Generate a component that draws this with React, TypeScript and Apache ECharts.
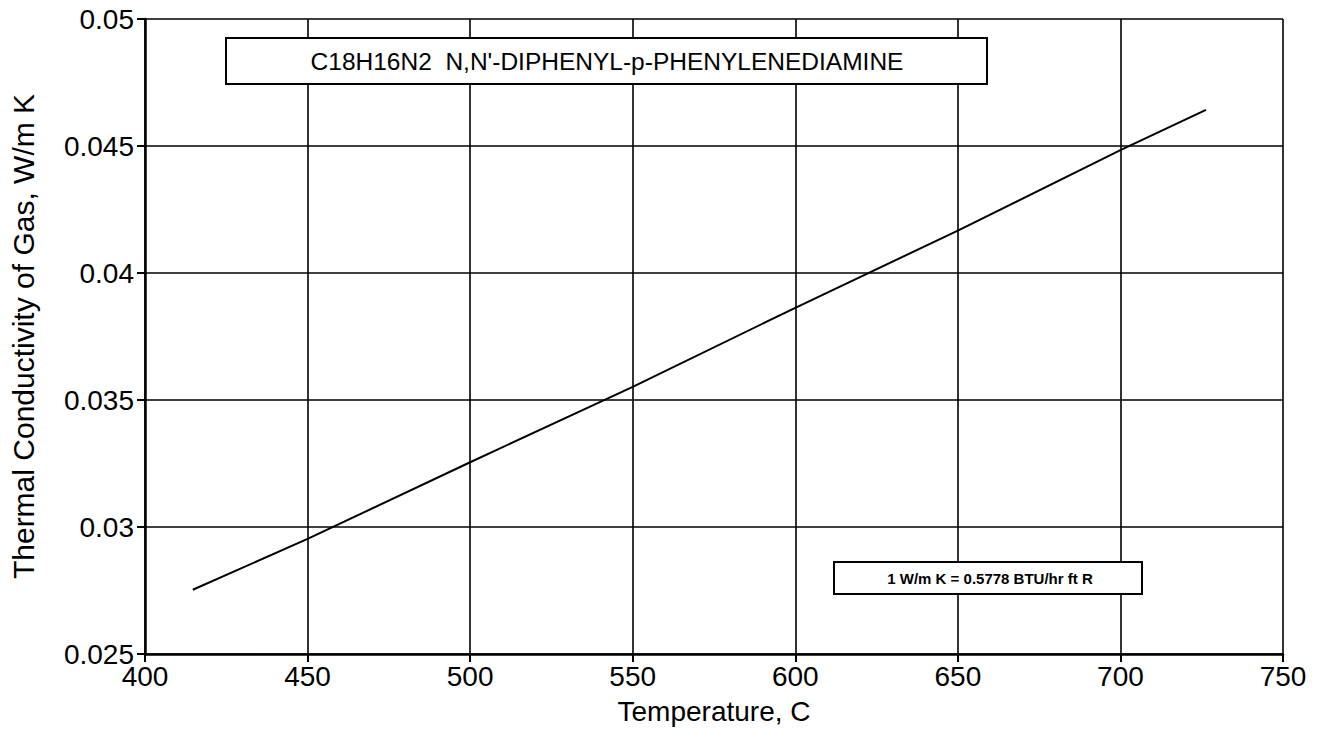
import React, { useEffect, useRef } from "react";
import * as echarts from "echarts";

const temperatures = [414.7, 450, 500, 550, 600, 650, 700, 726.3];
const conductivity = [0.02753, 0.02953, 0.03255, 0.03552, 0.03863, 0.04167, 0.04484, 0.04642];
const titleText = "C18H16N2  N,N'-DIPHENYL-p-PHENYLENEDIAMINE";
const noteText = "1 W/m K = 0.5778 BTU/hr ft R";
const xAxisName = "Temperature, C";
const yAxisName = "Thermal Conductivity of Gas, W/m K";

const FONT = "'Liberation Sans', Arial, Helvetica, sans-serif";

export default function App() {
  const ref = useRef<HTMLDivElement>(null);
  useEffect(() => {
    if (!ref.current) return;
    const chart = echarts.init(ref.current, null, { renderer: "svg" });
    const data = temperatures.map((t, i) => [t, conductivity[i]]);
    chart.setOption({
      animation: false,
      backgroundColor: "#ffffff",
      grid: { left: 145, right: 43, top: 19, bottom: 81, containLabel: false },
      xAxis: {
        type: "value",
        min: 400,
        max: 750,
        interval: 50,
        name: xAxisName,
        nameLocation: "middle",
        nameGap: 43,
        nameTextStyle: { fontFamily: FONT, fontSize: 28, color: "#000" },
        axisLine: { show: true, onZero: false, lineStyle: { color: "#000", width: 2.5 } },
        axisTick: { show: true, inside: false, length: 8, lineStyle: { color: "#000", width: 2 } },
        axisLabel: { fontFamily: FONT, fontSize: 28, color: "#000", margin: 8 },
        splitLine: { show: true, lineStyle: { color: "#000", width: 1.6 } },
      },
      yAxis: {
        type: "value",
        min: 0.025,
        max: 0.05,
        interval: 0.005,
        name: yAxisName,
        nameLocation: "middle",
        nameGap: 107,
        nameTextStyle: { fontFamily: FONT, fontSize: 30, color: "#000" },
        axisLine: { show: true, onZero: false, lineStyle: { color: "#000", width: 2.5 } },
        axisTick: { show: true, inside: false, length: 8, lineStyle: { color: "#000", width: 2 } },
        axisLabel: {
          fontFamily: FONT,
          fontSize: 28,
          color: "#000",
          margin: 11,
          formatter: (v: number) => String(parseFloat(v.toFixed(4))),
        },
        splitLine: { show: true, lineStyle: { color: "#000", width: 1.6 } },
      },
      series: [
        {
          type: "line",
          data,
          showSymbol: false,
          smooth: false,
          lineStyle: { color: "#000", width: 2 },
        },
      ],
      graphic: [
        {
          type: "rect",
          shape: { x: 226, y: 38, width: 761, height: 46 },
          style: { fill: "#fff", stroke: "#000", lineWidth: 2 },
          z: 100,
        },
        {
          type: "text",
          x: 607,
          y: 61,
          style: {
            text: titleText,
            fontFamily: FONT,
            fontSize: 24.5,
            fill: "#000",
            align: "center",
            verticalAlign: "middle",
          },
          z: 101,
        },
        {
          type: "rect",
          shape: { x: 834, y: 562, width: 308, height: 32 },
          style: { fill: "#fff", stroke: "#000", lineWidth: 2 },
          z: 100,
        },
        {
          type: "text",
          x: 990,
          y: 578,
          style: {
            text: noteText,
            fontFamily: FONT,
            fontSize: 15,
            fontWeight: "bold",
            fill: "#000",
            align: "center",
            verticalAlign: "middle",
          },
          z: 101,
        },
      ],
    });
    return () => chart.dispose();
  }, []);
  return (
    <div
      ref={ref}
      style={{ position: "fixed", left: 0, top: 0, width: 1326, height: 735, background: "#fff" }}
    />
  );
}
